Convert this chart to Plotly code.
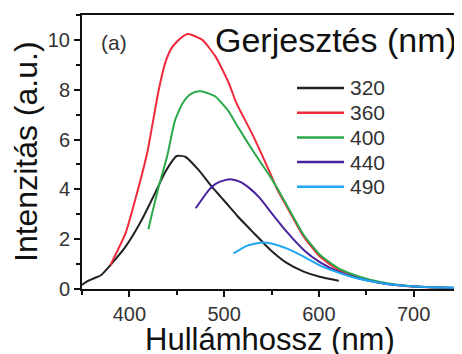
import plotly.graph_objects as go

# Data
labels = ["320", "360", "400", "440", "490"]
colors = ["#222222", "#ee2a3c", "#2aa84a", "#4a22a0", "#1ea6f0"]

x320 = [350, 355, 364, 370, 380, 396, 413, 427, 438, 450, 459, 473, 487, 496, 508, 514, 531, 548, 566, 584, 601, 621]
y320 = [0.16, 0.3, 0.45, 0.55, 0.96, 1.7, 2.77, 3.84, 4.71, 5.34, 5.31, 4.78, 4.11, 3.72, 3.2, 2.93, 2.26, 1.6, 1.05, 0.7, 0.49, 0.33]

x360 = [380, 396, 408, 419, 431, 438, 445, 454, 462, 477, 491, 505, 513, 531, 548, 556, 570, 584, 601, 619, 636, 654, 672, 690, 707, 730, 750]
y360 = [0.96, 2.24, 3.84, 5.5, 8.0, 9.1, 9.7, 10.07, 10.24, 10.0, 9.33, 8.26, 7.46, 6.12, 4.7, 4.0, 3.04, 2.1, 1.3, 0.8, 0.52, 0.33, 0.2, 0.12, 0.08, 0.05, 0.04]

x400 = [420, 431, 440, 448, 456, 463, 470, 477, 491, 505, 513, 531, 548, 556, 570, 584, 601, 619, 636, 654, 672, 690, 707, 730, 750]
y400 = [2.4, 4.11, 5.35, 6.75, 7.45, 7.78, 7.92, 7.93, 7.72, 7.12, 6.6, 5.51, 4.55, 4.05, 3.1, 2.17, 1.38, 0.87, 0.58, 0.37, 0.23, 0.14, 0.09, 0.05, 0.04]

x440 = [470, 484, 491, 500, 508, 517, 527, 538, 548, 566, 584, 601, 619, 636, 654, 672, 690, 707, 730, 750]
y440 = [3.24, 3.98, 4.22, 4.36, 4.4, 4.3, 4.04, 3.64, 3.15, 2.3, 1.57, 1.08, 0.72, 0.49, 0.32, 0.2, 0.13, 0.09, 0.06, 0.05]

x490 = [510, 524, 538, 552, 566, 584, 601, 619, 636, 654, 672, 690, 707, 730, 750]
y490 = [1.43, 1.73, 1.86, 1.81, 1.63, 1.3, 0.95, 0.68, 0.47, 0.32, 0.2, 0.13, 0.09, 0.06, 0.05]

xs = [x320, x360, x400, x440, x490]
ys = [y320, y360, y400, y440, y490]

x_ticks = [400, 500, 600, 700]
y_ticks = [0, 2, 4, 6, 8, 10]

FONT = "Liberation Sans, Arial, sans-serif"

fig = go.Figure()
for xv, yv, lab, col in zip(xs, ys, labels, colors):
    fig.add_trace(go.Scatter(x=xv, y=yv, mode="lines", name=lab, showlegend=False,
                             line=dict(color=col, width=2, shape="spline", smoothing=0.5)))

axis_common = dict(showline=True, linecolor="#111", linewidth=2, mirror=True,
                   ticks="outside", ticklen=6, tickwidth=2, tickcolor="#111",
                   showgrid=False, zeroline=False, automargin=False,
                   tickfont=dict(family=FONT, size=20, color="#333"))

fig.update_xaxes(range=[350, 750], tickvals=x_ticks, ticklabelstandoff=0,
                 minor=dict(dtick=50, tick0=350, ticks="outside", ticklen=4, tickwidth=1.5, tickcolor="#111"),
                 **axis_common)
fig.update_yaxes(range=[0, 11], tickvals=y_ticks,
                 minor=dict(dtick=1, tick0=0, ticks="outside", ticklen=4, tickwidth=1.5, tickcolor="#111"),
                 **axis_common)

# The page body has an 8px default margin, so lay out 8px up/left.
OFF = 8
L, R, T, B = 82 - OFF, 461 - OFF, 15 - OFF, 289 - OFF
W, H = R - L, B - T
def px(xp):
    return (xp - OFF - L) / W
def py(yp):
    return (B - (yp - OFF)) / H

# axis titles
fig.add_annotation(text="Hullámhossz (nm)", xref="paper", yref="paper", x=px(270), y=py(339),
                   xanchor="center", yanchor="middle", showarrow=False,
                   font=dict(family=FONT, size=31, color="#111"))
fig.add_annotation(text="Intenzitás (a.u.)", xref="paper", yref="paper", x=px(26), y=py(152),
                   xanchor="center", yanchor="middle", showarrow=False, textangle=-90,
                   font=dict(family=FONT, size=32, color="#111"))

fig.add_annotation(text="(a)", xref="paper", yref="paper", x=px(99), y=py(42),
                   xanchor="left", yanchor="middle", showarrow=False,
                   font=dict(family=FONT, size=21, color="#333"))
fig.add_annotation(text="Gerjesztés (nm)", xref="paper", yref="paper", x=px(213), y=py(40),
                   xanchor="left", yanchor="middle", showarrow=False,
                   font=dict(family=FONT, size=34, color="#111"))

# legend (manual, compact spacing like the reference)
leg_x0, leg_x1, leg_y0, leg_dy = 297, 344, 88, 24.7
for i, (lab, col) in enumerate(zip(labels, colors)):
    yy = leg_y0 + i * leg_dy
    fig.add_shape(type="line", xref="paper", yref="paper",
                  x0=px(leg_x0), x1=px(leg_x1), y0=py(yy), y1=py(yy),
                  line=dict(color=col, width=2.5))
    fig.add_annotation(text=lab, xref="paper", yref="paper", x=px(leg_x1 + 4), y=py(yy),
                       xanchor="left", yanchor="middle", showarrow=False,
                       font=dict(family=FONT, size=21, color="#333"))

fig.update_layout(
    width=462, height=354,
    margin=dict(l=L, r=462 - R, t=T, b=354 - B),
    paper_bgcolor="white", plot_bgcolor="white",
    showlegend=False,
)

fig.write_html("out.html")
